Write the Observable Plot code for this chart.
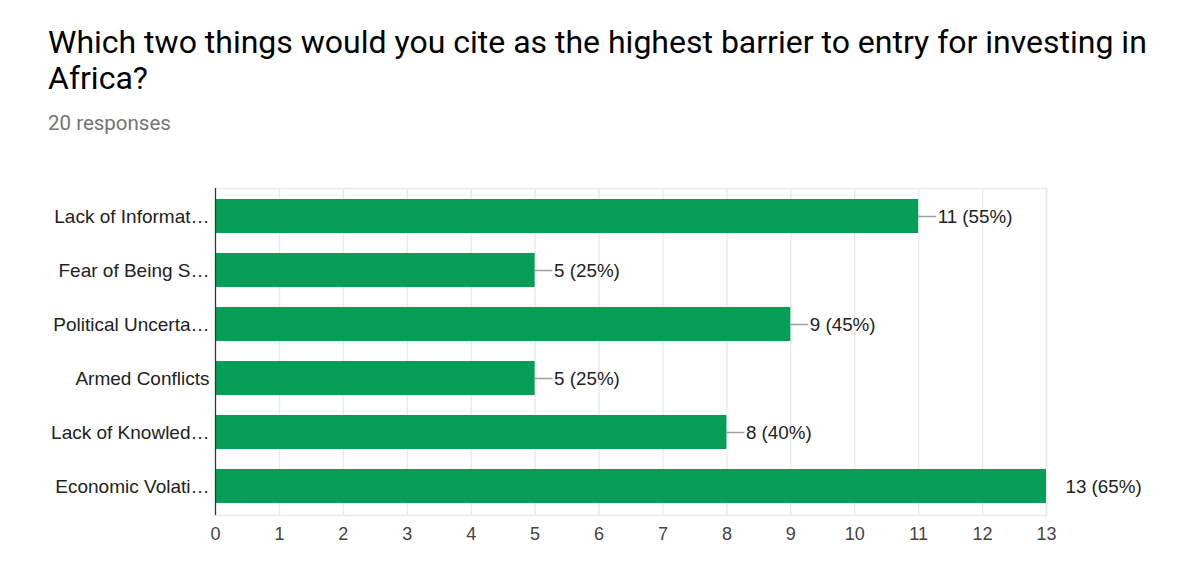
<!DOCTYPE html>
<html>
<head>
<meta charset="utf-8">
<script src="https://cdn.jsdelivr.net/npm/d3@7"></script>
<script src="https://cdn.jsdelivr.net/npm/@observablehq/plot@0.6"></script>
<style>
  html, body { margin: 0; padding: 0; background: #fff; width: 1204px; height: 572px; overflow: hidden; }
  #title { position: absolute; left: 48px; top: 24px; width: 1140px; font-family: Roboto, sans-serif; font-size: 32px; line-height: 36px; color: #000; }
  #subtitle { position: absolute; left: 48px; top: 111px; font-family: Roboto, sans-serif; font-size: 20.5px; color: #757575; }
  #chart { position: absolute; left: 0; top: 150px; }
</style>
</head>
<body>
<div id="title">Which two things would you cite as the highest barrier to entry for investing in Africa?</div>
<div id="subtitle">20 responses</div>
<div id="chart"></div>
<script>
const categories = ["Lack of Informat…", "Fear of Being S…", "Political Uncerta…", "Armed Conflicts", "Lack of Knowled…", "Economic Volati…"];
const counts = [11, 5, 9, 5, 8, 13];
const percents = [55, 25, 45, 25, 40, 65];
const xTicks = [0,1,2,3,4,5,6,7,8,9,10,11,12,13];

const data = categories.map((c, i) => ({cat: c, n: counts[i], pct: percents[i], label: `${counts[i]} (${percents[i]}%)`}));
const xMax = 13;

const plot = Plot.plot({
  width: 1204,
  height: 422,
  marginLeft: 215,
  marginRight: 158,
  marginTop: 38,
  marginBottom: 57,
  style: {fontFamily: "Liberation Sans, Arial, sans-serif", fontSize: "18px", color: "#222", background: "#fff"},
  x: {domain: [0, xMax], ticks: xTicks, label: null},
  y: {domain: categories, label: null, paddingInner: 0.37, paddingOuter: 0.2},
  marks: [
    Plot.ruleX(xTicks, {stroke: "#ebebeb", strokeWidth: 1.5}),
    Plot.frame({stroke: "#ebebeb", strokeWidth: 1.5}),
    Plot.barX(data, {y: "cat", x: "n", fill: "#049e55"}),
    Plot.ruleY(data.filter(d => d.n < xMax), {y: "cat", x1: "n", x2: d => d.n + 0.28, stroke: "#9e9e9e", strokeWidth: 1.5}),
    Plot.text(data, {y: "cat", x: "n", text: "label", textAnchor: "start", dx: 19, fill: "#222", fontSize: 18.8}),
    Plot.axisX({ticks: xTicks, tickSize: 0, tickPadding: 12, fontSize: 18, fill: "#444", label: null}),
    Plot.axisY({tickSize: 0, tickPadding: 6, fontSize: 19, fill: "#222", label: null}),
    Plot.ruleX([0], {stroke: "#333", strokeWidth: 1.2})
  ]
});
document.getElementById("chart").appendChild(plot);
</script>
</body>
</html>
